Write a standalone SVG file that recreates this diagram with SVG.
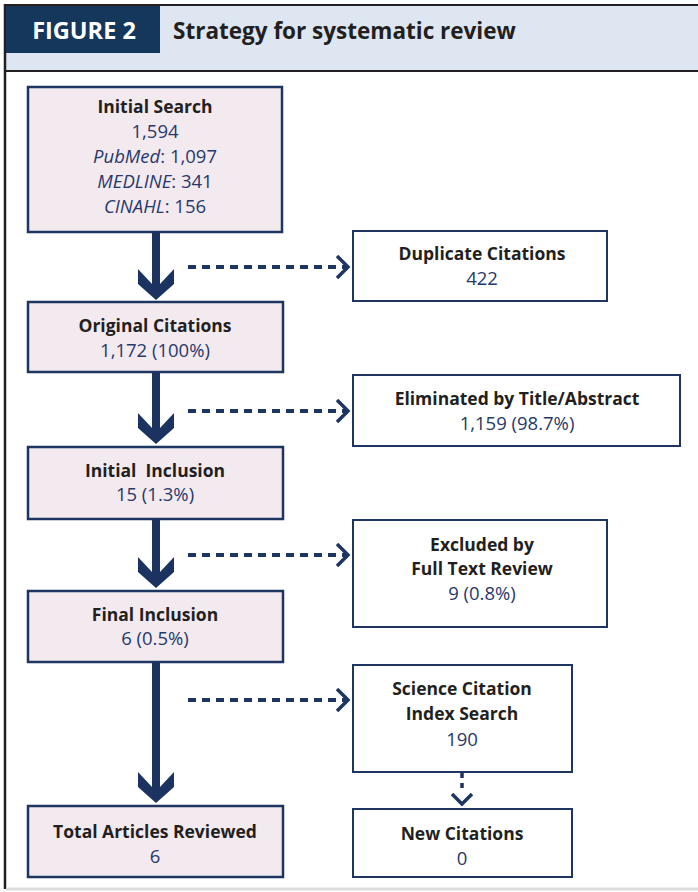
<svg xmlns="http://www.w3.org/2000/svg" width="698" height="892" viewBox="0 0 698 892">
<style>
.lbl{font-family:"Open Sans","Liberation Sans",sans-serif;font-size:17.5px;font-weight:bold;fill:#231f20;text-anchor:middle}
.num{font-family:"Open Sans","Liberation Sans",sans-serif;font-size:18.5px;fill:#27396a;text-anchor:middle}
.main{fill:#f3eaf0;stroke:#1f3561;stroke-width:2.5}
.side{fill:#ffffff;stroke:#1f3561;stroke-width:2}
.dash{fill:none;stroke:#1f3561;stroke-width:4;stroke-dasharray:8 6}
.chev{fill:none;stroke:#1f3561;stroke-width:3.5}
.thick{fill:#1c3260}
</style>
<rect x="0" y="0" width="698" height="892" fill="#ffffff"/>
<rect x="6" y="6" width="692" height="65" fill="#dde6f1"/>
<line x1="5" y1="5" x2="698" y2="5" stroke="#231f20" stroke-width="2"/>
<line x1="5" y1="71" x2="698" y2="71" stroke="#231f20" stroke-width="2"/>
<line x1="5" y1="4" x2="5" y2="889" stroke="#231f20" stroke-width="2.5"/>
<line x1="6" y1="889" x2="698" y2="889" stroke="#dcdcdc" stroke-width="3"/>
<rect x="6" y="6" width="154" height="47" fill="#15375c"/>
<text x="84" y="39" font-family="'Open Sans','Liberation Sans',sans-serif" font-size="23.5" font-weight="bold" fill="#ffffff" text-anchor="middle">FIGURE 2</text>
<text x="173" y="39" font-family="'Open Sans','Liberation Sans',sans-serif" font-size="22.5" font-weight="bold" fill="#231f20">Strategy for systematic review</text>

<g id="connectors">
<path class="thick" d="M152,232 H160 V284 L174,269 V284 L156,300 L138,284 V269 L152,284 Z"/>
<path class="thick" d="M152,372 H160 V428 L174,413 V428 L156,444 L138,428 V413 L152,428 Z"/>
<path class="thick" d="M152,519 H160 V572 L174,557 V572 L156,588 L138,572 V557 L152,572 Z"/>
<path class="thick" d="M152,662 H160 V787 L174,772 V787 L156,803 L138,787 V772 L152,787 Z"/>
<line class="dash" x1="188" y1="267" x2="346" y2="267"/>
<polyline class="chev" points="337,256 348,267 337,278"/>
<line class="dash" x1="188" y1="411" x2="346" y2="411"/>
<polyline class="chev" points="337,400 348,411 337,422"/>
<line class="dash" x1="188" y1="555" x2="346" y2="555"/>
<polyline class="chev" points="337,544 348,555 337,566"/>
<line class="dash" x1="188" y1="700" x2="346" y2="700"/>
<polyline class="chev" points="337,689 348,700 337,711"/>
<line x1="462" y1="773" x2="462" y2="792" stroke="#1f3561" stroke-width="3.5" stroke-dasharray="5 5"/>
<polyline class="chev" points="452,794 462,804 472,794"/>
</g>

<g id="initial-search">
<rect class="main" x="28" y="87" width="254" height="145" stroke-width="3.5"/>
<text class="lbl" x="155" y="113">Initial Search</text>
<text class="num" x="155" y="138">1,594</text>
<text class="num" x="155" y="163"><tspan font-style="italic">PubMed</tspan>: 1,097</text>
<text class="num" x="155" y="188"><tspan font-style="italic">MEDLINE</tspan>: 341</text>
<text class="num" x="155" y="213"><tspan font-style="italic">CINAHL</tspan>: 156</text>
</g>
<g id="duplicate">
<rect class="side" x="353" y="231" width="254" height="70"/>
<text class="lbl" x="482" y="260">Duplicate Citations</text>
<text class="num" x="482" y="285">422</text>
</g>
<g id="original">
<rect class="main" x="28" y="302" width="255" height="70"/>
<text class="lbl" x="155" y="332">Original Citations</text>
<text class="num" x="155" y="357">1,172 (100%)</text>
</g>
<g id="eliminated">
<rect class="side" x="353" y="375" width="327" height="71"/>
<text class="lbl" x="517" y="405">Eliminated by Title/Abstract</text>
<text class="num" x="517" y="430">1,159 (98.7%)</text>
</g>
<g id="initial-inclusion">
<rect class="main" x="28" y="447" width="255" height="72"/>
<text class="lbl" x="155" y="477" xml:space="preserve">Initial  Inclusion</text>
<text class="num" x="155" y="501">15 (1.3%)</text>
</g>
<g id="excluded">
<rect class="side" x="353" y="520" width="254" height="107"/>
<text class="lbl" x="482" y="551">Excluded by</text>
<text class="lbl" x="482" y="575">Full Text Review</text>
<text class="num" x="482" y="600">9 (0.8%)</text>
</g>
<g id="final-inclusion">
<rect class="main" x="28" y="591" width="255" height="71"/>
<text class="lbl" x="155" y="621">Final Inclusion</text>
<text class="num" x="155" y="645">6 (0.5%)</text>
</g>
<g id="sci">
<rect class="side" x="353" y="665" width="219" height="107"/>
<text class="lbl" x="462" y="695">Science Citation</text>
<text class="lbl" x="462" y="720">Index Search</text>
<text class="num" x="462" y="746">190</text>
</g>
<g id="total">
<rect class="main" x="28" y="806" width="255" height="71"/>
<text class="lbl" x="155" y="838">Total Articles Reviewed</text>
<text class="num" x="155" y="863">6</text>
</g>
<g id="new-citations">
<rect class="side" x="353" y="809" width="219" height="68"/>
<text class="lbl" x="462" y="840">New Citations</text>
<text class="num" x="462" y="865">0</text>
</g>
</svg>
